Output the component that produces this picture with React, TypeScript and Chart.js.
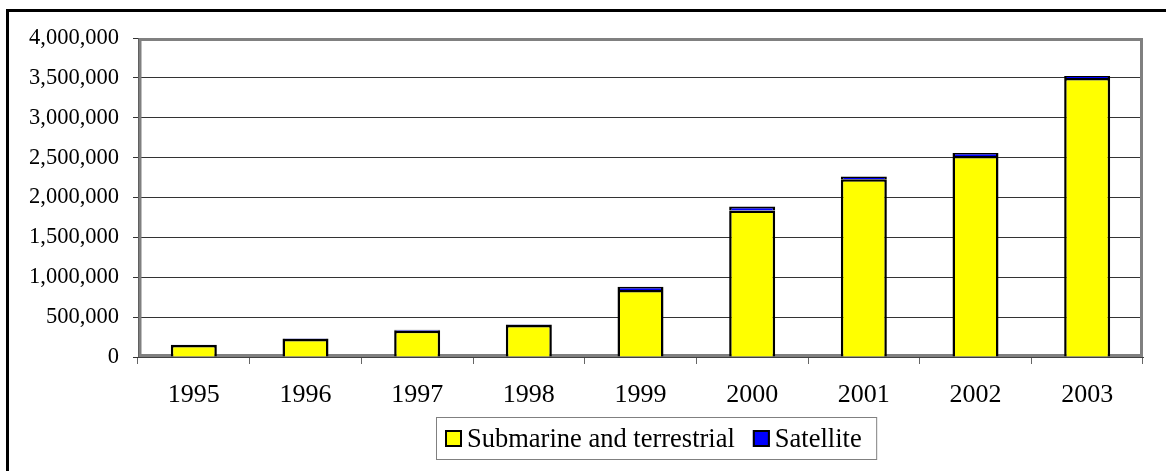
import React, { useEffect, useRef } from "react";
import { Chart, registerables } from "chart.js";

Chart.register(...registerables);

const years = ["1995", "1996", "1997", "1998", "1999", "2000", "2001", "2002", "2003"];
const submarineTerrestrial = [150000, 225000, 330000, 400000, 840000, 1837000, 2230000, 2520000, 3500000];
const satellite = [5000, 8000, 12000, 9000, 40000, 50000, 32000, 38000, 25000];
const seriesLabels = ["Submarine and terrestrial", "Satellite"];
const seriesColors = ["#FFFF00", "#0000FF"];
const yMin = 0;
const yMax = 4000000;
const yStep = 500000;

const FONT = '"Liberation Serif", "Times New Roman", serif';

const framePlugin = {
  id: "plotFrame",
  beforeDatasetsDraw(chart: any) {
    const { ctx, chartArea } = chart;
    const { left, top, right, bottom } = chartArea;
    ctx.save();
    ctx.strokeStyle = "#808080";
    ctx.lineWidth = 3;
    ctx.strokeRect(left + 2, top + 1.5, right - left - 3.5, bottom - top - 3);
    ctx.restore();
  },
};

const legendPlugin = {
  id: "boxLegend",
  afterDraw(chart: any) {
    const { ctx } = chart;
    ctx.save();
    ctx.font = `26.5px ${FONT}`;
    ctx.textBaseline = "alphabetic";
    const startX = 445;
    const boxTop = 430;
    const boxSize = 17;
    const baseline = 447;
    let x = startX;
    chart.data.datasets.forEach((ds: any, i: number) => {
      ctx.fillStyle = ds.backgroundColor;
      ctx.fillRect(x, boxTop, boxSize, boxSize);
      ctx.strokeStyle = "#000";
      ctx.lineWidth = 2;
      ctx.strokeRect(x + 1, boxTop + 1, boxSize - 2, boxSize - 2);
      const tx = x + boxSize + 5;
      ctx.fillStyle = "#000";
      ctx.fillText(ds.label, tx, baseline);
      const w = ctx.measureText(ds.label).width;
      x = tx + w;
      if (i < chart.data.datasets.length - 1) x += 18;
    });
    ctx.strokeStyle = "#808080";
    ctx.lineWidth = 1;
    ctx.strokeRect(startX - 8.5, 417.5, x + 15 - (startX - 8.5), 42);
    ctx.restore();
  },
};

export default function App() {
  const canvasRef = useRef<HTMLCanvasElement | null>(null);

  useEffect(() => {
    if (!canvasRef.current) return;
    const chart = new Chart(canvasRef.current, {
      type: "bar",
      data: {
        labels: years,
        datasets: [
          {
            label: seriesLabels[0],
            data: submarineTerrestrial,
            backgroundColor: seriesColors[0],
            borderColor: "#000",
            borderWidth: 2.5,
            borderSkipped: "start",
            categoryPercentage: 1,
            barPercentage: 0.412,
          },
          {
            label: seriesLabels[1],
            data: satellite,
            backgroundColor: seriesColors[1],
            borderColor: "#000",
            borderWidth: 2.5,
            borderSkipped: "start",
            categoryPercentage: 1,
            barPercentage: 0.412,
          },
        ],
      },
      options: {
        responsive: false,
        animation: false,
        layout: { padding: { left: 0, top: 38, right: 23, bottom: 54 } },
        plugins: {
          legend: { display: false },
          title: { display: false },
          tooltip: { enabled: false },
        },
        scales: {
          x: {
            stacked: true,
            afterFit: (s: any) => {
              s.height = 60;
            },
            grid: {
              display: true,
              offset: true,
              drawOnChartArea: false,
              drawTicks: true,
              tickLength: 7,
              color: "#666",
            },
            border: { display: true, color: "#404040", width: 1 },
            ticks: {
              color: "#000",
              padding: 16,
              font: { family: FONT, size: 26 },
              maxRotation: 0,
            },
          },
          y: {
            stacked: true,
            min: yMin,
            max: yMax,
            afterFit: (s: any) => {
              s.width = 138;
            },
            grid: {
              color: "#333",
              lineWidth: 1,
              drawTicks: true,
              tickLength: 5,
            },
            border: { display: true, color: "#404040", width: 1 },
            ticks: {
              stepSize: yStep,
              color: "#000",
              padding: 14,
              font: { family: FONT, size: 22.5 },
              callback: (v: any) => Number(v).toLocaleString("en-US"),
            },
          },
        },
      },
      plugins: [framePlugin, legendPlugin],
    });
    return () => chart.destroy();
  }, []);

  return (
    <div
      style={{
        position: "fixed",
        left: 0,
        top: 0,
        width: 1166,
        height: 471,
        overflow: "hidden",
        background: "#fff",
      }}
    >
      <div
        style={{
          position: "absolute",
          left: 6,
          top: 9,
          width: 1300,
          height: 700,
          border: "3px solid #000",
          boxSizing: "border-box",
        }}
      />
      <canvas
        ref={canvasRef}
        width={1166}
        height={471}
        style={{ position: "absolute", left: 0, top: 0, display: "block" }}
      />
    </div>
  );
}
